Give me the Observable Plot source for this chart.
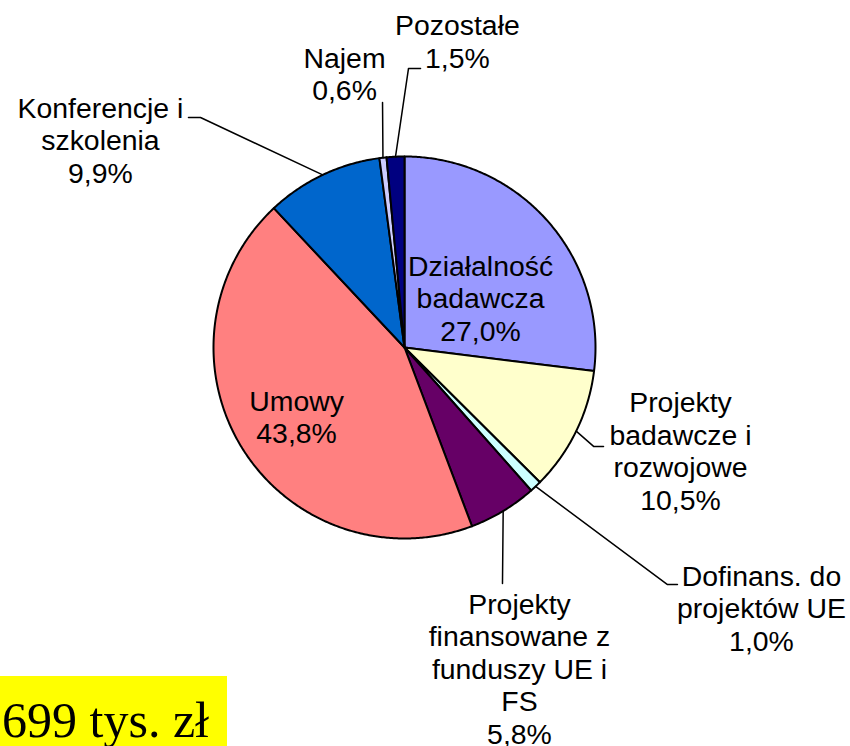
<!DOCTYPE html>
<html>
<head>
<meta charset="utf-8">
<script src="https://cdn.jsdelivr.net/npm/d3@7"></script>
<script src="https://cdn.jsdelivr.net/npm/@observablehq/plot@0.6"></script>
<style>
  html, body { margin: 0; padding: 0; background: #fff; }
  #chart { position: relative; width: 850px; height: 746px; overflow: hidden; }
  #total { position: absolute; left: 0; top: 676px; width: 227px; height: 70px; background: #FFFF00; overflow: hidden; }
  #total span { position: absolute; right: 18px; top: 19px; font-family: "Liberation Serif", "Times New Roman", serif; font-size: 50px; line-height: 1; white-space: nowrap; color: #000; }
</style>
</head>
<body>
<div id="chart">
  <div id="total"><span>699 tys. zł</span></div>
</div>
<script>
// ---- data ----
const categories = [
  "Działalność\nbadawcza",
  "Projekty\nbadawcze i\nrozwojowe",
  "Dofinans. do\nprojektów UE",
  "Projekty\nfinansowane z\nfunduszy UE i\nFS",
  "Umowy",
  "Konferencje i\nszkolenia",
  "Najem",
  "Pozostałe"
];
const shares = [27.0, 10.5, 1.0, 5.8, 43.8, 9.9, 0.6, 1.5];
const shareLabels = ["27,0%", "10,5%", "1,0%", "5,8%", "43,8%", "9,9%", "0,6%", "1,5%"];
const colors = ["#9999FF", "#FFFFCC", "#CCFFFF", "#660066", "#FF8080", "#0066CC", "#CCCCFF", "#000080"];
// label block centres, in units of the pie radius (x right, y up)
const labelX = [0.398, 1.445, 1.869, 0.602, -0.565, -1.592, -0.314, 0.277];
const labelY = [0.259, -0.541, -1.364, -1.679, -0.362, 1.086, 1.434, 1.604];
// leader line elbows (after the point on the rim), in units of the radius
const leaderBends = [
  [],
  [[0.990, -0.518], [1.042, -0.518]],
  [[1.377, -1.241], [1.429, -1.241]],
  [[0.513, -1.236]],
  [],
  [[-1.068, 1.204], [-1.131, 1.204]],
  [[-0.115, 1.283]],
  [[0.021, 1.461], [0.084, 1.461]]
];

// ---- geometry built from the data ----
const total = d3.sum(shares);
let acc = 0;
const slices = shares.map((v, i) => {
  const a0 = acc / total * 2 * Math.PI;
  acc += v;
  const a1 = acc / total * 2 * Math.PI;
  const pts = [{x: 0, y: 0}];
  const steps = Math.max(2, Math.ceil((a1 - a0) / (Math.PI / 360)));
  for (let k = 0; k <= steps; k++) {
    const a = a0 + (a1 - a0) * k / steps;
    pts.push({x: Math.sin(a), y: Math.cos(a)});
  }
  pts.push({x: 0, y: 0});
  const mid = (a0 + a1) / 2;
  return {i, pts, mid, color: colors[i]};
});

const leaders = slices
  .filter(s => leaderBends[s.i].length)
  .map(s => [{x: Math.sin(s.mid), y: Math.cos(s.mid)}, ...leaderBends[s.i].map(([x, y]) => ({x, y}))]);

const labels = categories.map((c, i) => ({
  text: c + "\n" + shareLabels[i],
  x: labelX[i],
  y: labelY[i]
}));

const marks = [];
for (const s of slices) {
  marks.push(Plot.line(s.pts, {x: "x", y: "y", fill: s.color, stroke: "#000", strokeWidth: 2, strokeLinejoin: "round", curve: "linear"}));
}
for (const l of leaders) {
  marks.push(Plot.line(l, {x: "x", y: "y", stroke: "#000", strokeWidth: 1.5}));
}
marks.push(Plot.text(labels, {
  x: "x", y: "y", text: "text",
  fontSize: 28.4, lineHeight: 1.145, fill: "#000",
  textAnchor: "middle", lineAnchor: "middle"
}));

const plot = Plot.plot({
  width: 850,
  height: 746,
  marginLeft: 213,
  marginRight: 255,
  marginTop: 156,
  marginBottom: 208,
  x: {domain: [-1, 1], axis: null},
  y: {domain: [-1, 1], axis: null},
  style: {fontFamily: "'Liberation Sans', Arial, sans-serif", background: "transparent", overflow: "visible"},
  marks
});
plot.style.position = "absolute";
plot.style.left = "0";
plot.style.top = "0";
const chart = document.getElementById("chart");
chart.insertBefore(plot, chart.firstChild);
</script>
</body>
</html>
